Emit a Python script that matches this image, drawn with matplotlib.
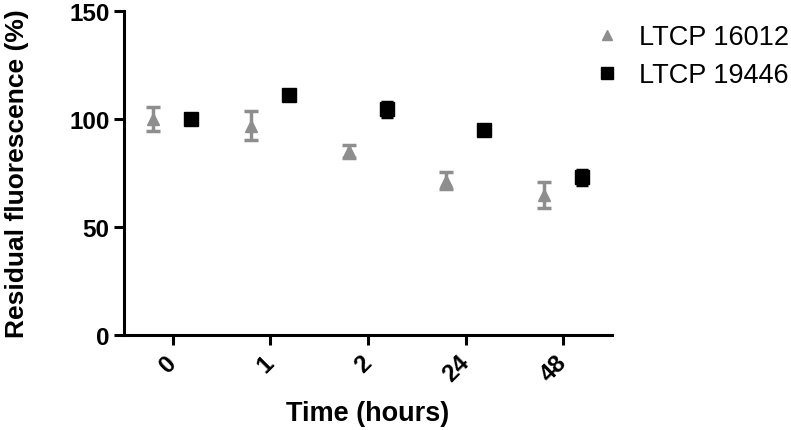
#Residual fluorescence over time

#Importing libraries
import numpy as np
import matplotlib.pyplot as plt

plt.rcParams['font.family'] = ['Liberation Sans', 'DejaVu Sans']

#Data
times = ['0', '1', '2', '24', '48']
ltcp16012_mean = [100, 97, 85, 71.5, 65]
ltcp16012_err = [5.5, 6.5, 3, 4, 6]
ltcp19446_mean = [100, 111, 104.5, 95, 73]
ltcp19446_err = [1, 1, 3.5, 1, 3.5]

x = np.arange(len(times))

fig = plt.figure(figsize=(7.91, 4.31), dpi=100)
ax = fig.add_axes([0.1568, 0.2204, 0.617, 0.7516])

gray = '#8e8e8e'
ax.errorbar(x - 0.2, ltcp16012_mean, yerr=ltcp16012_err, fmt='^', color=gray,
            ecolor=gray, markersize=9, capsize=5, capthick=2.5, elinewidth=2.5,
            label='LTCP 16012')
ax.errorbar(x + 0.19, ltcp19446_mean, yerr=ltcp19446_err, fmt='s', color='black',
            ecolor='black', markersize=10, capsize=4.5, capthick=2.5, elinewidth=2.5,
            label='LTCP 19446')

ax.set_xlim(-0.5, 4.5)
ax.set_ylim(0, 150)
ax.set_yticks([0, 50, 100, 150])
ax.set_xticks(x)
ax.set_xticklabels(times, rotation=45, ha='right', va='center',
                   rotation_mode='anchor')

for s in ['top', 'right']:
    ax.spines[s].set_visible(False)
for s in ['left', 'bottom']:
    ax.spines[s].set_linewidth(2.2)
ax.tick_params(width=2.2, length=7, labelsize=17.5)
ax.tick_params(axis='x', pad=10)
for lbl in ax.get_xticklabels() + ax.get_yticklabels():
    lbl.set_fontweight('bold')

ax.set_xlabel('Time (hours)', fontsize=19.5, fontweight='bold', labelpad=10)
ax.set_ylabel('Residual fluorescence (%)', fontsize=19, fontweight='bold', labelpad=29)

handles, labels = ax.get_legend_handles_labels()
handles = [h[0] for h in handles]
ax.legend(handles, labels, loc='upper left', bbox_to_anchor=(0.9, 1.035),
          frameon=False, fontsize=19.5, handletextpad=0.5, markerscale=0.8,
          handlelength=1.4, labelspacing=0.45)

plt.savefig('out.png', dpi=100)
